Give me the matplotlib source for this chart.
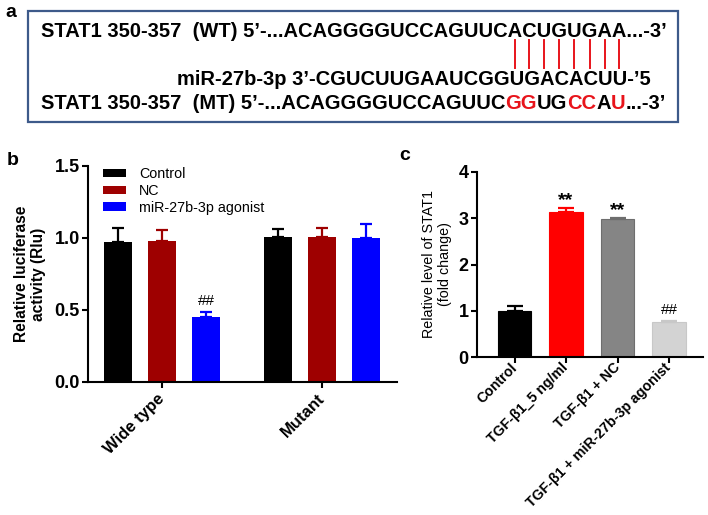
import matplotlib
matplotlib.use('Agg')
import matplotlib.pyplot as plt
import numpy as np
from matplotlib.patches import Rectangle
from matplotlib.font_manager import FontProperties

plt.rcParams['font.family'] = ['Liberation Sans', 'DejaVu Sans']

# ---------------- data ----------------
# panel a
wt_prefix = "STAT1 350-357  (WT) 5\u2019-..."
wt_seq = "ACAGGGGUCCAGUUCACUGUGAA"
wt_suffix = "...-3\u2019"
mir_line = "miR-27b-3p 3\u2019-CGUCUUGAAUCGGUGACACUU-\u20195"
mt_segments = [("STAT1 350-357  (MT) 5\u2019-...ACAGGGGUCCAGUUC", "black"),
               ("GG", "#e8141b"), ("UG", "black"), ("CC", "#e8141b"),
               ("A", "black"), ("U", "#e8141b"), ("...-3\u2019", "black")]
n_pairs = 8

# panel b
groups_b = ["Wide type", "Mutant"]
series_b = ["Control", "NC", "miR-27b-3p agonist"]
colors_b = ["#000000", "#9e0000", "#0000ff"]
vals_b = [[0.97, 1.01], [0.98, 1.01], [0.45, 1.00]]
errs_b = [[0.10, 0.055], [0.075, 0.06], [0.035, 0.097]]
marks_b = [["", ""], ["", ""], ["##", ""]]

# panel c
cats_c = ["Control", "TGF-\u03b21_5 ng/ml", "TGF-\u03b21 + NC", "TGF-\u03b21 + miR-27b-3p agonist"]
vals_c = [1.0, 3.13, 2.98, 0.76]
errs_c = [0.10, 0.10, 0.035, 0.022]
colors_c = ["#000000", "#ff0000", "#858585", "#d3d3d3"]
edges_c = ["#000000", "#ff0000", "#6e6e6e", "#c8c8c8"]
marks_c = ["", "**", "**", "##"]

# ---------------- figure ----------------
W, H = 708, 515
fig = plt.figure(figsize=(W / 100, H / 100), dpi=100)

# panel a (pixel coordinate overlay)
axa = fig.add_axes([0, 0, 1, 1])
axa.set_xlim(0, W)
axa.set_ylim(H, 0)
axa.axis('off')
renderer = fig.canvas.get_renderer()

def tw(s, fp):
    w, h, d = renderer.get_text_width_height_descent(s, fp, ismath=False)
    return w

wt_full = wt_prefix + wt_seq + wt_suffix
fp0 = FontProperties(family='Liberation Sans', weight='bold', size=10)
target = 626
fs_a = 10 * target / tw(wt_full, fp0)
fpa = FontProperties(family='Liberation Sans', weight='bold', size=fs_a)

x0 = 41
axa.text(x0, 36.7, wt_full, fontproperties=fpa, ha='left', va='baseline', color='black')
axa.text(177, 85, mir_line, fontproperties=fpa, ha='left', va='baseline', color='black')
xx = x0
for seg, col in mt_segments:
    axa.text(xx, 109.3, seg, fontproperties=fpa, ha='left', va='baseline', color=col)
    xx += tw(seg, fpa)

# pairing lines under last n_pairs letters of the WT sequence
start = len(wt_prefix) + len(wt_seq) - n_pairs
for i in range(start, start + n_pairs):
    c = x0 + 0.5 * (tw(wt_full[:i], fpa) + tw(wt_full[:i + 1], fpa))
    axa.plot([c, c], [40, 68], color='#e8141b', lw=1.4)

axa.add_patch(Rectangle((28, 11), 650, 111, fill=False, edgecolor='#3d5a8a', lw=1.6))
axa.text(5, 17, "a", fontsize=14, fontweight='bold', ha='left', va='baseline')
axa.text(7, 165, "b", fontsize=14, fontweight='bold', ha='left', va='baseline')
axa.text(399, 160, "c", fontsize=14, fontweight='bold', ha='left', va='baseline')

# ---------------- panel b ----------------
axb = fig.add_axes([88 / W, 1 - 382 / H, 309 / W, 216 / H])
xg = np.arange(len(groups_b))
offs = [-0.275, 0.0, 0.275]
bw = 0.18
for k in range(len(series_b)):
    xs = xg + offs[k]
    axb.bar(xs, vals_b[k], width=bw, color=colors_b[k], label=series_b[k], zorder=2)
    axb.errorbar(xs, vals_b[k], yerr=[np.zeros(len(xs)), errs_b[k]], fmt='none',
                 ecolor=colors_b[k], elinewidth=1.6, capsize=4.3, capthick=1.6, zorder=3)
    for j in range(len(xs)):
        if marks_b[k][j]:
            axb.annotate(marks_b[k][j], (xs[j], vals_b[k][j] + errs_b[k][j]), xytext=(0, 3),
                         textcoords='offset points', ha='center', va='bottom', fontsize=11)
axb.set_xlim(-0.4625, 1.4688)
axb.set_ylim(0, 1.5)
axb.set_yticks([0, 0.5, 1.0, 1.5])
axb.set_yticklabels(["0.0", "0.5", "1.0", "1.5"])
axb.set_xticks(xg)
axb.set_xticklabels(groups_b, rotation=45, ha='right', va='center', rotation_mode='anchor')
for sp in ['top', 'right']:
    axb.spines[sp].set_visible(False)
for sp in ['left', 'bottom']:
    axb.spines[sp].set_linewidth(1.5)
axb.tick_params(axis='y', length=4.5, width=1.5, pad=1.5, labelsize=13)
axb.tick_params(axis='x', length=4.5, width=1.5, pad=6, labelsize=12)
for lab in axb.get_yticklabels() + axb.get_xticklabels():
    lab.set_fontweight('bold')
axb.set_ylabel("Relative luciferase\nactivity (Rlu)", fontsize=11.2, fontweight='bold', labelpad=6,
               linespacing=1.15)
axb.legend(loc='upper left', bbox_to_anchor=(0.0485, 0.995), frameon=False, fontsize=10.3,
           handlelength=1.6, handleheight=0.55, handletextpad=0.9, labelspacing=0.2,
           borderpad=0, borderaxespad=0)

# ---------------- panel c ----------------
axc = fig.add_axes([477 / W, 1 - 357 / H, 226 / W, 185 / H])
xc = np.arange(len(cats_c))
axc.bar(xc, vals_c, width=0.65, color=colors_c, edgecolor=edges_c, linewidth=0.8, zorder=2)
for j in range(len(xc)):
    axc.errorbar(xc[j], vals_c[j], yerr=[[0], [errs_c[j]]], fmt='none', ecolor=edges_c[j],
                 elinewidth=1.6, capsize=6, capthick=1.6, zorder=3)
    if marks_c[j]:
        if marks_c[j] == "**":
            axc.annotate(marks_c[j], (xc[j], vals_c[j] + errs_c[j]), xytext=(0, -1),
                         textcoords='offset points', ha='center', va='bottom', fontsize=14,
                         fontweight='bold')
        else:
            axc.annotate(marks_c[j], (xc[j], vals_c[j] + errs_c[j]), xytext=(0, 3),
                         textcoords='offset points', ha='center', va='bottom', fontsize=11)
axc.set_xlim(-0.73, 3.66)
axc.set_ylim(0, 4)
axc.set_yticks([0, 1, 2, 3, 4])
axc.set_xticks(xc)
axc.set_xticklabels(cats_c, rotation=45, ha='right', va='center', rotation_mode='anchor')
for sp in ['top', 'right']:
    axc.spines[sp].set_visible(False)
for sp in ['left', 'bottom']:
    axc.spines[sp].set_linewidth(1.5)
axc.tick_params(axis='y', length=4.5, width=1.5, pad=1.5, labelsize=13)
axc.tick_params(axis='x', length=4.5, width=1.5, pad=1.5, labelsize=10.2)
for lab in axc.get_yticklabels() + axc.get_xticklabels():
    lab.set_fontweight('bold')
axc.set_ylabel("Relative level of STAT1\n(fold change)", fontsize=10.3, labelpad=5, linespacing=1.1)

fig.savefig("out.png", dpi=100)
